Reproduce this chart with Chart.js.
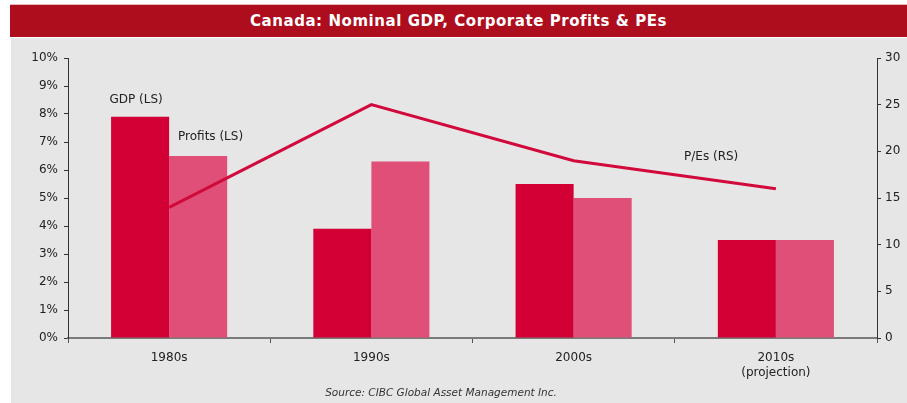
<!DOCTYPE html>
<html lang="en">
<head>
    <meta charset="UTF-8">
    <title>Canada: Nominal GDP, Corporate Profits & PEs</title>
    <script src="https://cdn.jsdelivr.net/npm/chart.js"></script>
    <style>
        body {
            margin: 0;
            background-color: #fff;
            font-family: "DejaVu Sans", sans-serif;
        }
        .frame {
            position: relative;
            width: 907px;
            height: 403px;
            overflow: hidden;
        }
        .title-bar {
            position: absolute;
            left: 10px;
            top: 4px;
            width: 897px;
            height: 33px;
            background-color: #ae0d1e;
            border-top: 1px solid #e8b8bd;
            box-sizing: border-box;
            color: #fff;
            font-weight: bold;
            font-size: 15px;
            letter-spacing: 0.55px;
            line-height: 32px;
            text-align: center;
        }
        .panel {
            position: absolute;
            left: 11px;
            top: 38px;
            width: 896px;
            height: 365px;
            background-color: #e6e6e6;
        }
        .source {
            position: absolute;
            left: 0;
            width: 882px;
            top: 386px;
            text-align: center;
            font-size: 10.5px;
            font-style: italic;
            color: #333;
        }
        #chart {
            position: absolute;
            left: 0;
            top: 0;
        }
    </style>
</head>
<body>
    <div class="frame">
        <div class="title-bar">Canada: Nominal GDP, Corporate Profits &amp; PEs</div>
        <div class="panel"></div>
        <canvas id="chart" width="907" height="403"></canvas>
        <div class="source">Source: CIBC Global Asset Management Inc.</div>
    </div>

    <script>
        // data
        const decades = [['1980s'], ['1990s'], ['2000s'], ['2010s', '(projection)']];
        const gdpGrowth = [7.9, 3.9, 5.5, 3.5];       // %, left scale
        const profitGrowth = [6.5, 6.3, 5.0, 3.5];    // %, left scale
        const peRatios = [14, 25, 19, 16];            // right scale
        const leftTicks = [0, 1, 2, 3, 4, 5, 6, 7, 8, 9, 10];
        const rightTicks = [0, 5, 10, 15, 20, 25, 30];

        const tickFont = { family: 'DejaVu Sans', size: 12 };

        // series labels written inside the plot, anchored on the scales
        const seriesLabels = {
            id: 'seriesLabels',
            afterDatasetsDraw(chart) {
                const { ctx, scales } = chart;
                const notes = [
                    { text: 'GDP (LS)', x: -0.163, y: 8.5, axis: 'y' },
                    { text: 'Profits (LS)', x: 0.205, y: 7.18, axis: 'y' },
                    { text: 'P/Es (RS)', x: 2.68, y: 19.4, axis: 'y1' }
                ];
                ctx.save();
                ctx.font = '12px "DejaVu Sans"';
                ctx.fillStyle = '#222';
                ctx.textAlign = 'center';
                ctx.textBaseline = 'middle';
                notes.forEach(n => {
                    ctx.fillText(n.text, scales.x.getPixelForValue(n.x), scales[n.axis].getPixelForValue(n.y));
                });
                ctx.restore();
            }
        };

        new Chart(document.getElementById('chart'), {
            type: 'bar',
            data: {
                labels: decades,
                datasets: [
                    {
                        type: 'line',
                        label: 'P/Es (RS)',
                        data: peRatios,
                        yAxisID: 'y1',
                        borderColor: '#d20a3c',
                        borderWidth: 3,
                        pointRadius: 0,
                        tension: 0,
                        order: 0
                    },
                    {
                        label: 'GDP (LS)',
                        data: gdpGrowth,
                        yAxisID: 'y',
                        backgroundColor: '#d20035',
                        borderWidth: 0,
                        order: 1
                    },
                    {
                        label: 'Profits (LS)',
                        data: profitGrowth,
                        yAxisID: 'y',
                        backgroundColor: '#e04f77',
                        borderWidth: 0,
                        order: 1
                    }
                ]
            },
            options: {
                responsive: false,
                animation: false,
                events: [],
                layout: { padding: { top: 58, left: 0, right: 0, bottom: 0 } },
                datasets: {
                    bar: { barPercentage: 1, categoryPercentage: 0.574 }
                },
                plugins: {
                    legend: { display: false },
                    tooltip: { enabled: false }
                },
                scales: {
                    x: {
                        grid: { drawOnChartArea: false, tickLength: 5, color: '#555', offset: true },
                        border: { color: '#7a7a7a', width: 2 },
                        ticks: { font: tickFont, color: '#222', padding: 8, maxRotation: 0 },
                        afterFit(scale) { scale.height = 65; }
                    },
                    y: {
                        position: 'left',
                        min: 0,
                        max: 10,
                        afterBuildTicks(scale) { scale.ticks = leftTicks.map(v => ({ value: v })); },
                        grid: { drawOnChartArea: false, tickLength: 4, color: '#333' },
                        border: { color: '#333', width: 1 },
                        ticks: { font: tickFont, color: '#222', padding: 6, callback: v => v + '%' },
                        afterFit(scale) { scale.width = 68; }
                    },
                    y1: {
                        position: 'right',
                        min: 0,
                        max: 30,
                        afterBuildTicks(scale) { scale.ticks = rightTicks.map(v => ({ value: v })); },
                        grid: { drawOnChartArea: false, tickLength: 4, color: '#333' },
                        border: { color: '#333', width: 1 },
                        ticks: { font: tickFont, color: '#222', padding: 4 },
                        afterFit(scale) { scale.width = 30; }
                    }
                }
            },
            plugins: [seriesLabels]
        });
    </script>
</body>
</html>
